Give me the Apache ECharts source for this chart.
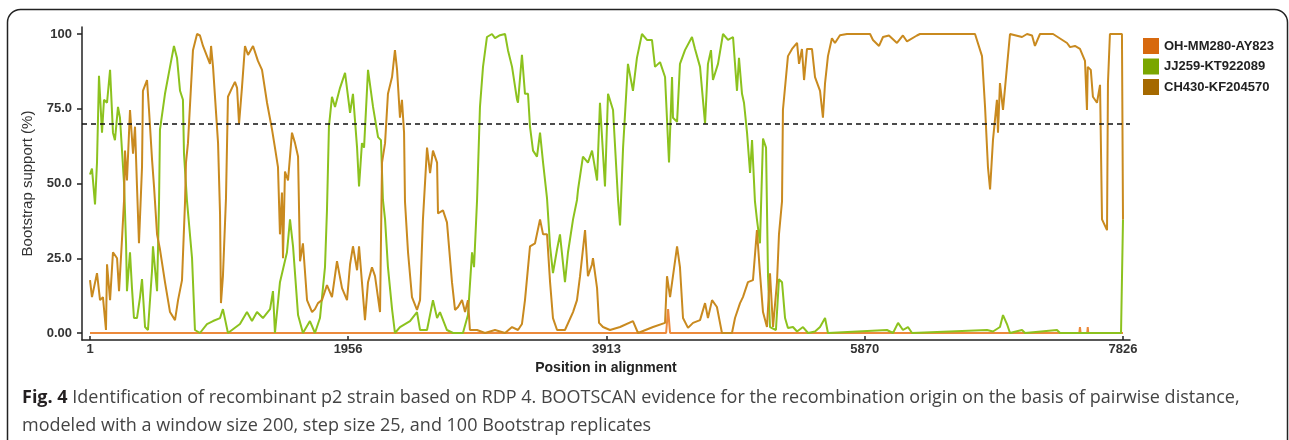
<!DOCTYPE html>
<html>
<head>
<meta charset="utf-8">
<script src="https://cdn.jsdelivr.net/npm/echarts@6/dist/echarts.min.js"></script>
<style>
html, body { margin: 0; padding: 0; background: #fff; }
#chart { width: 1289px; height: 440px; }
</style>
</head>
<body>
<div id="chart"></div>
<script>
// bootscan values (position in alignment, bootstrap %)
const seriesNames = ['OH-MM280-AY823', 'JJ259-KT922089', 'CH430-KF204570'];
const xTicks = [1, 1956, 3913, 5870, 7826];
const yTicks = [0, 25, 50, 75, 100];
const yTickLabels = ['0.00', '25.0', '50.0', '75.0', '100'];
const cutoff = 70;

const ohPos = [1, 4365, 4380, 4395, 7495, 7500, 7505, 7555, 7559, 7563, 7826];
const ohVal = [0, 0, 8, 0, 0, 2, 0, 0, 2, 0, 0];

const jjPos = [1, 16, 39, 54, 69, 92, 107, 130, 153, 175, 190, 213, 228, 259, 274, 281, 304, 319, 334, 357,
  380, 395, 418, 440, 471, 478, 509, 524, 531, 569, 607, 637, 660, 683, 705, 713, 736, 774, 796, 834,
  887, 933, 986, 1008, 1046, 1137, 1190, 1228, 1266, 1311, 1365, 1387, 1402, 1440, 1493, 1516, 1539, 1577, 1614, 1667,
  1705, 1743, 1781, 1796, 1811, 1834, 1857, 1895, 1933, 1971, 1993, 2024, 2039, 2061, 2077, 2107, 2145, 2183, 2205, 2220,
  2236, 2258, 2289, 2311, 2349, 2387, 2425, 2478, 2501, 2554, 2599, 2630, 2652, 2705, 2751, 2826, 2864, 2895, 2910, 2933,
  2940, 2955, 2978, 3008, 3046, 3069, 3107, 3145, 3167, 3198, 3205, 3236, 3243, 3273, 3296, 3319, 3334, 3357, 3387, 3410,
  3433, 3463, 3486, 3508, 3539, 3561, 3599, 3622, 3660, 3690, 3698, 3735, 3773, 3804, 3842, 3864, 3902, 3925, 3963, 4001,
  4016, 4039, 4076, 4114, 4144, 4182, 4220, 4258, 4281, 4319, 4357, 4379, 4387, 4410, 4417, 4448, 4470, 4508, 4561, 4584,
  4622, 4660, 4682, 4705, 4720, 4758, 4796, 4834, 4872, 4902, 4917, 4940, 4955, 4978, 5001, 5016, 5038, 5053, 5076, 5099,
  5122, 5137, 5152, 5197, 5220, 5243, 5266, 5288, 5326, 5357, 5402, 5440, 5493, 5531, 5569, 5591, 6038, 6084, 6122, 6159,
  6197, 6228, 6796, 6841, 6894, 6917, 6947, 6970, 7061, 7084, 7326, 7349, 7811, 7826];
const jjVal = [53, 55, 43, 57, 86, 67, 78, 77, 88, 67, 64.5, 75.6, 72, 50, 30, 14, 27, 15, 5, 5,
  12, 18, 2, 1, 21, 29, 14, 44, 68, 80, 89, 96, 92, 81, 78, 60, 44, 25, 1, 0,
  3, 4, 5, 8, 0, 3, 7, 4, 7, 5, 8, 14, 0, 17, 27, 38, 29, 6, 0, 4,
  0, 5, 22, 41, 69, 79, 75.6, 82, 87, 73.6, 80, 62, 49, 63.5, 62, 88, 75.6, 65.5, 64.5, 44.5,
  38, 22, 8, 0, 2, 3, 4, 7, 1, 1, 11, 5, 7, 1, 0, 0, 6, 27, 22, 44.5,
  54.5, 75.6, 89, 99, 100, 98.6, 99.6, 100, 94.6, 89, 87, 78, 77, 93, 80, 80, 69, 61, 59, 67,
  57, 45, 29, 20, 28, 33, 17, 27, 38, 44.5, 48, 59, 57, 61, 51, 77, 49, 80, 74.6, 44.5,
  36, 62, 90, 81, 92, 100, 98, 98, 89, 90.6, 85.6, 64.5, 57, 85.6, 72, 70.6, 90, 94.6, 99, 95,
  89, 70, 90, 94.6, 84.6, 90, 100, 98, 99, 81, 92, 80, 77, 67, 53.5, 64.5, 44, 38, 30, 65,
  62, 19, 2, 1, 18, 17, 5, 1.7, 2, 0.5, 2, 0, 0.5, 2, 5, 0, 1, 0, 3.4, 1,
  2, 0, 1, 0.5, 2, 6, 3, 0, 1, 0, 1, 0, 0, 38];

const chPos = [1, 16, 54, 77, 99, 122, 130, 153, 175, 206, 221, 243, 259, 266, 281, 304, 327, 342, 357, 372,
  395, 402, 433, 448, 471, 486, 509, 531, 569, 607, 645, 668, 698, 721, 728, 743, 781, 812, 834, 857,
  887, 910, 918, 933, 971, 986, 993, 1008, 1031, 1046, 1077, 1099, 1115, 1130, 1152, 1175, 1198, 1236, 1273, 1304,
  1342, 1380, 1402, 1425, 1440, 1455, 1463, 1478, 1501, 1531, 1554, 1577, 1592, 1614, 1645, 1683, 1705, 1728, 1758, 1796,
  1834, 1872, 1910, 1948, 1971, 1993, 2024, 2039, 2061, 2084, 2107, 2137, 2160, 2198, 2213, 2236, 2258, 2289, 2311, 2327,
  2349, 2364, 2380, 2387, 2410, 2440, 2478, 2501, 2523, 2554, 2577, 2599, 2630, 2637, 2675, 2705, 2743, 2766, 2789, 2819,
  2842, 2864, 2879, 2933, 2993, 3069, 3145, 3198, 3243, 3273, 3296, 3334, 3372, 3410, 3433, 3463, 3486, 3508, 3539, 3599,
  3660, 3690, 3713, 3751, 3773, 3804, 3811, 3842, 3857, 3887, 3940, 4016, 4114, 4152, 4266, 4357, 4372, 4395, 4448, 4470,
  4493, 4531, 4569, 4622, 4660, 4682, 4713, 4750, 4788, 4864, 4887, 4925, 4947, 4985, 5023, 5053, 5076, 5099, 5129, 5152,
  5175, 5205, 5220, 5243, 5250, 5288, 5319, 5357, 5372, 5394, 5410, 5432, 5470, 5493, 5531, 5553, 5569, 5591, 5621, 5644,
  5682, 5735, 5910, 5932, 5978, 6008, 6053, 6114, 6159, 6190, 6265, 6288, 6705, 6758, 6781, 6803, 6819, 6841, 6871, 6879,
  6894, 6917, 6947, 6970, 7061, 7099, 7137, 7159, 7197, 7296, 7349, 7402, 7425, 7462, 7500, 7538, 7553, 7559, 7582, 7598,
  7629, 7652, 7667, 7705, 7712, 7727, 7818, 7826];
const chVal = [17.7, 12, 20, 11, 12, 1, 23, 11, 27, 25, 14, 31, 44.5, 61, 51, 74.6, 60, 69, 49, 30,
  55.5, 81, 84.6, 74.6, 58, 49, 33, 28, 17, 7, 4.3, 11, 17.7, 44, 57, 63.5, 94.6, 100, 99.5, 96,
  92.6, 90, 96, 89, 63.5, 40, 10, 19, 45, 79, 82, 84, 82, 70, 82, 96, 93, 96, 91, 88,
  77, 68, 62, 55.5, 33, 47, 25, 54, 51, 67, 63.5, 59, 24, 30, 11, 7, 8, 10, 11, 16,
  12, 24, 15, 11, 23, 29, 21, 29, 17, 4.3, 17, 22, 19, 7, 57, 63.5, 80, 85.6, 94.6, 88,
  72, 78, 67, 44, 27, 12, 7.7, 11, 38, 62, 53.5, 61, 57, 40, 41, 37, 17, 7.7, 8.7, 11,
  7, 11, 1, 1, 0, 1, 0, 2, 1, 3, 11, 29, 30, 38, 33, 33, 17, 5, 1, 1,
  7, 11, 19, 34.4, 19, 23, 25, 15, 3.4, 2, 1, 2, 4, 0, 2, 3.4, 19, 12, 29, 22,
  5, 1.7, 3.4, 4.3, 10, 5, 11, 8.7, 0, 0, 5, 10, 12, 17, 17.7, 34.4, 20, 7, 2, 20,
  2, 17, 33, 44, 74.6, 92.6, 95, 97, 90, 95, 84.6, 95, 95, 85.6, 81, 72, 83.6, 92.6, 98.6, 97,
  99.6, 100, 100, 98, 96, 99, 99.5, 97, 99.5, 97.5, 99.5, 100, 100, 92.6, 75.6, 55.5, 48, 64.5, 78, 67,
  83.6, 74.6, 89, 100, 99, 100, 99.5, 96, 100, 100, 98.5, 97, 95.6, 96, 95, 91, 74.6, 89, 88, 79,
  77, 83, 38, 34.4, 83.6, 100, 100, 38];

const lineColors = ['#ec8a3c', '#8cc21e', '#c98a1f'];
const swatchColors = ['#d7690e', '#7aa600', '#a56900'];

function zip(xs, ys) { return xs.map((x, i) => [x, ys[i]]); }
const allData = [zip(ohPos, ohVal), zip(jjPos, jjVal), zip(chPos, chVal)];

const chart = echarts.init(document.getElementById('chart'), null, { renderer: 'canvas' });

const axisFont = 'Arial, "Liberation Sans", sans-serif';
const captionFont = '"Open Sans", Lato, sans-serif';

chart.setOption({
  animation: false,
  backgroundColor: '#fff',
  grid: { left: 82, right: 159, top: 27, bottom: 100, outerBoundsMode: 'none' },
  xAxis: {
    type: 'value',
    min: -59.6,
    max: 7879,
    name: 'Position in alignment',
    nameLocation: 'middle',
    nameGap: 12,
    nameTextStyle: { fontFamily: axisFont, fontWeight: 'bold', fontSize: 14, color: '#222' },
    axisLine: { show: true, onZero: false, lineStyle: { color: '#222', width: 1.5 } },
    axisTick: { show: true, inside: true, length: 4, customValues: xTicks, lineStyle: { color: '#222', width: 1.5 } },
    axisLabel: {
      customValues: xTicks, margin: 3,
      fontFamily: axisFont, fontWeight: 'bold', fontSize: 13, color: '#333',
      formatter: v => String(Math.round(v))
    },
    splitLine: { show: false }
  },
  yAxis: {
    type: 'value',
    min: -2.34,
    max: 102.34,
    name: 'Bootstrap support (%)',
    nameLocation: 'middle',
    nameGap: 40,
    nameRotate: 90,
    nameTextStyle: { fontFamily: axisFont, fontSize: 15, color: '#333' },
    axisLine: { show: true, onZero: false, lineStyle: { color: '#222', width: 1.5 } },
    axisTick: { show: true, inside: false, length: 5, customValues: yTicks, lineStyle: { color: '#222', width: 1.5 } },
    axisLabel: {
      customValues: yTicks, margin: 10,
      fontFamily: axisFont, fontWeight: 'bold', fontSize: 13, color: '#333',
      formatter: v => {
        const i = yTicks.findIndex(t => Math.abs(t - v) < 1e-6);
        return i >= 0 ? yTickLabels[i] : '';
      }
    },
    splitLine: { show: false }
  },
  legend: {
    orient: 'vertical',
    left: 1143,
    top: 38,
    padding: 0,
    itemWidth: 16,
    itemHeight: 16,
    itemGap: 4.5,
    icon: 'rect',
    textStyle: { fontFamily: axisFont, fontWeight: 'bold', fontSize: 13, color: '#222' },
    data: seriesNames.map((n, i) => ({ name: n, itemStyle: { color: swatchColors[i], borderWidth: 0 } }))
  },
  series: seriesNames.map((n, i) => ({
    name: n,
    type: 'line',
    data: allData[i],
    showSymbol: false,
    symbol: 'none',
    color: lineColors[i],
    lineStyle: { width: 2, color: lineColors[i] },
    z: 2 + i,
    markLine: i === 0 ? {
      silent: true,
      symbol: 'none',
      label: { show: false },
      lineStyle: { color: '#111', width: 1.6, type: [5, 4] },
      data: [{ yAxis: cutoff }],
      z: 10
    } : undefined
  })),
  graphic: [
    {
      type: 'rect',
      shape: { x: 7.5, y: 9.5, width: 1280, height: 460, r: 13 },
      style: { fill: 'none', stroke: '#222', lineWidth: 1.5 },
      silent: true
    },
    {
      type: 'text',
      x: 22,
      y: 384,
      style: {
        text: '{b|Fig. 4} Identification of recombinant p2 strain based on RDP 4. BOOTSCAN evidence for the recombination origin on the basis of pairwise distance,\nmodeled with a window size 200, step size 25, and 100 Bootstrap replicates',
        fontFamily: captionFont,
        fontSize: 18,
        lineHeight: 28,
        fill: '#444',
        rich: {
          b: { fontFamily: captionFont, fontSize: 18, fontWeight: 'bold', fill: '#231f20', lineHeight: 28 }
        }
      },
      silent: true
    }
  ]
});
</script>
</body>
</html>
